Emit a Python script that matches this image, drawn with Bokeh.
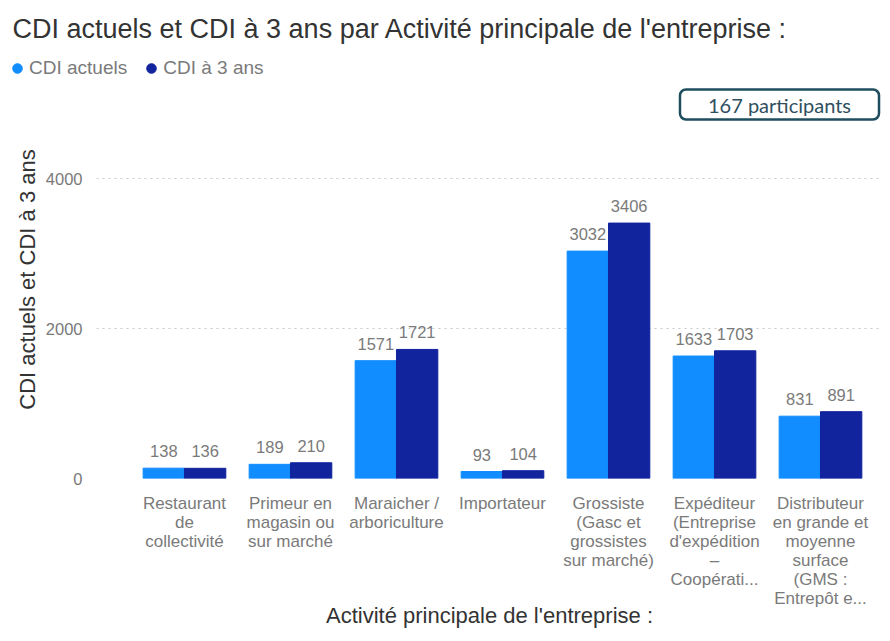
from bokeh.plotting import figure
from bokeh.layouts import column, row
from bokeh.models import (ColumnDataSource, Range1d, FixedTicker, Label, Legend,
                          LegendItem)
from bokeh.transform import dodge
from bokeh.core.properties import value
from bokeh.embed import file_html
from bokeh.resources import INLINE

# ---- data ----
categories = ["Restaurant de collectivité", "Primeur en magasin ou sur marché",
              "Maraicher / arboriculture", "Importateur",
              "Grossiste (Gasc et grossistes sur marché)",
              "Expéditeur (Entreprise d'expédition – Coopérati...",
              "Distributeur en grande et moyenne surface (GMS : Entrepôt e..."]
tick_labels = ["Restaurant\nde\ncollectivité",
               "Primeur en\nmagasin ou\nsur marché",
               "Maraicher /\narboriculture",
               "Importateur",
               "Grossiste\n(Gasc et\ngrossistes\nsur marché)",
               "Expéditeur\n(Entreprise\nd'expédition\n–\nCoopérati...",
               "Distributeur\nen grande et\nmoyenne\nsurface\n(GMS :\nEntrepôt e..."]
cdi_actuels = [138, 189, 1571, 93, 3032, 1633, 831]
cdi_3ans = [136, 210, 1721, 104, 3406, 1703, 891]
y_ticks = [0, 2000, 4000]
series_names = ["CDI actuels", "CDI à 3 ans"]
colors = ["#118DFF", "#12239E"]
title_text = "CDI actuels et CDI à 3 ans par Activité principale de l'entreprise :"
participants_text = "167 participants"

FONT = "Liberation Sans"
W = 882
HEAD_H = 80
MAIN_H = 553

# ---------------- header: title + legend ----------------
head = figure(width=W, height=HEAD_H, title=None, x_range=Range1d(0, W),
              y_range=Range1d(HEAD_H, 0), output_backend="svg",
              toolbar_location=None, min_border=0,
              x_axis_location=None, y_axis_location=None)
head.grid.visible = False
head.outline_line_color = None
head.add_layout(Label(x=12, y=28, text=title_text, text_font=FONT,
                      text_font_size="27px", text_color="#333333",
                      text_baseline="alphabetic"))
d1 = head.scatter(x=[-100], y=[-100], marker="circle", color=colors[0])
d2 = head.scatter(x=[-100], y=[-100], marker="circle", color=colors[1])
legend = Legend(items=[LegendItem(label=series_names[0], renderers=[d1]),
                       LegendItem(label=series_names[1], renderers=[d2])],
                location=(5, 0), orientation="horizontal",
                glyph_width=24, glyph_height=24, label_standoff=0, spacing=12,
                padding=0, margin=0, border_line_color=None,
                background_fill_alpha=0, label_text_font=FONT,
                label_text_font_size="19px", label_text_color="#7A7A7A")
head.add_layout(legend)

# ---------------- main chart ----------------
idx = list(range(len(categories)))
src = ColumnDataSource(dict(
    x=idx, a=cdi_actuels, b=cdi_3ans,
    a_txt=[str(v) for v in cdi_actuels], b_txt=[str(v) for v in cdi_3ans]))

p = figure(width=W, height=MAIN_H, title=None, x_range=Range1d(-0.830, 6.585),
           y_range=Range1d(0, 5307), output_backend="svg", toolbar_location=None,
           min_border_left=96, min_border_right=0, min_border_top=0,
           min_border_bottom=155)
p.outline_line_color = None
p.background_fill_color = "white"
p.border_fill_color = "white"

bw = 0.39
p.vbar(x=dodge("x", -bw / 2, range=p.x_range), top="a", width=bw,
       source=src, color=colors[0])
p.vbar(x=dodge("x", bw / 2, range=p.x_range), top="b", width=bw,
       source=src, color=colors[1])

for col, off in (("a", -bw / 2), ("b", bw / 2)):
    p.text(x=dodge("x", off, range=p.x_range), y=col, text=col + "_txt",
           source=src, text_align="center", text_baseline="middle",
           y_offset=-17, text_font=value(FONT), text_font_size="16.5px",
           text_color="#7A7A7A")

# axes
p.xaxis.ticker = FixedTicker(ticks=idx)
p.xaxis.major_label_overrides = {i: t for i, t in zip(idx, tick_labels)}
p.xaxis.major_label_text_font = FONT
p.xaxis.major_label_text_font_size = "17px"
p.xaxis.major_label_text_line_height = 1.0
p.xaxis.major_label_text_color = "#7A7A7A"
p.xaxis.major_label_standoff = 9
p.xaxis.axis_line_color = None
p.xaxis.major_tick_line_color = None
p.xaxis.minor_tick_line_color = None
p.xaxis.axis_label = "Activité principale de l'entreprise :"
p.xaxis.axis_label_text_font = FONT
p.xaxis.axis_label_text_font_size = "22px"
p.xaxis.axis_label_text_font_style = "normal"
p.xaxis.axis_label_text_color = "#333333"
p.xaxis.axis_label_standoff = -8

p.yaxis.ticker = FixedTicker(ticks=y_ticks)
p.yaxis.major_label_text_font = FONT
p.yaxis.major_label_text_font_size = "16.5px"
p.yaxis.major_label_text_color = "#7A7A7A"
p.yaxis.major_label_standoff = 8
p.yaxis.axis_line_color = None
p.yaxis.major_tick_line_color = None
p.yaxis.minor_tick_line_color = None
p.yaxis.axis_label = "CDI actuels et CDI à 3 ans"
p.yaxis.axis_label_text_font = FONT
p.yaxis.axis_label_text_font_size = "22px"
p.yaxis.axis_label_text_font_style = "normal"
p.yaxis.axis_label_text_color = "#333333"
p.yaxis.axis_label_standoff = 3

p.xgrid.visible = False
p.ygrid.ticker = FixedTicker(ticks=y_ticks)
p.ygrid.grid_line_color = "#C8C8C8"
p.ygrid.grid_line_dash = "2 4"
p.ygrid.grid_line_width = 1.2

# participants box
p.add_layout(Label(x=683, y=374, x_units="screen", y_units="screen",
                   text=participants_text, text_font="Lato",
                   text_font_size="20px", text_color="#2F4F5F",
                   text_align="center", text_baseline="middle",
                   padding=dict(left=28, right=28, top=3, bottom=3),
                   border_line_color="#1E4D5E", border_line_width=2.5,
                   border_radius=6, background_fill_color="white"))

layout = column(row(head), p, spacing=0)
open("out.html", "w").write(file_html(layout, INLINE))
